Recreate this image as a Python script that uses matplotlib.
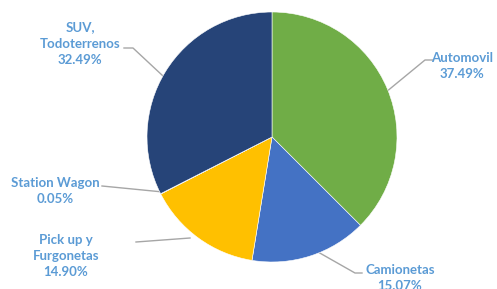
import matplotlib.pyplot as plt

categories = ["Automovil", "Camionetas", "Pick up y\nFurgonetas", "Station Wagon", "SUV,\nTodoterrenos"]
shares = [37.49, 15.07, 14.90, 0.05, 32.49]
colors = ["#70AD47", "#4472C4", "#FFC000", "#A5A5A5", "#264478"]

# label anchor (text centre) and leader line points, in pixel coords (y from top)
label_pos = [(462, 66), (400, 278), (66, 256), (55, 191), (80, 44)]
leaders = [
    [(433, 60), (425, 60), (380, 97)],
    [(362, 273), (355, 273), (318, 252)],
    [(136, 242), (190, 238)],
    [(102, 186), (163, 192)],
    [(124, 48), (133, 48), (163, 76)],
]

H = 289
fig = plt.figure(figsize=(4.97, 2.89), dpi=100)
ax = fig.add_axes([0, 0, 1, 1])

ax.pie(shares, colors=colors, startangle=90, counterclock=False,
       center=(272, H - 137), radius=125, frame=True,
       wedgeprops=dict(edgecolor="white", linewidth=0.4))
ax.set_xlim(0, 497)
ax.set_ylim(0, H)
ax.set_aspect("equal")
ax.axis("off")

for cat, val, (x, y), pts in zip(categories, shares, label_pos, leaders):
    ax.text(x, H - y, f"{cat}\n{val:.2f}%", ha="center", va="center",
            fontsize=9.5, fontweight="bold", color="#5B9BD5",
            family=["Lato", "DejaVu Sans"], linespacing=1.45)
    xs = [p[0] for p in pts]
    ys = [H - p[1] for p in pts]
    ax.plot(xs, ys, color="#A6A6A6", lw=1, zorder=0.5)

fig.savefig("out.png", dpi=100)
